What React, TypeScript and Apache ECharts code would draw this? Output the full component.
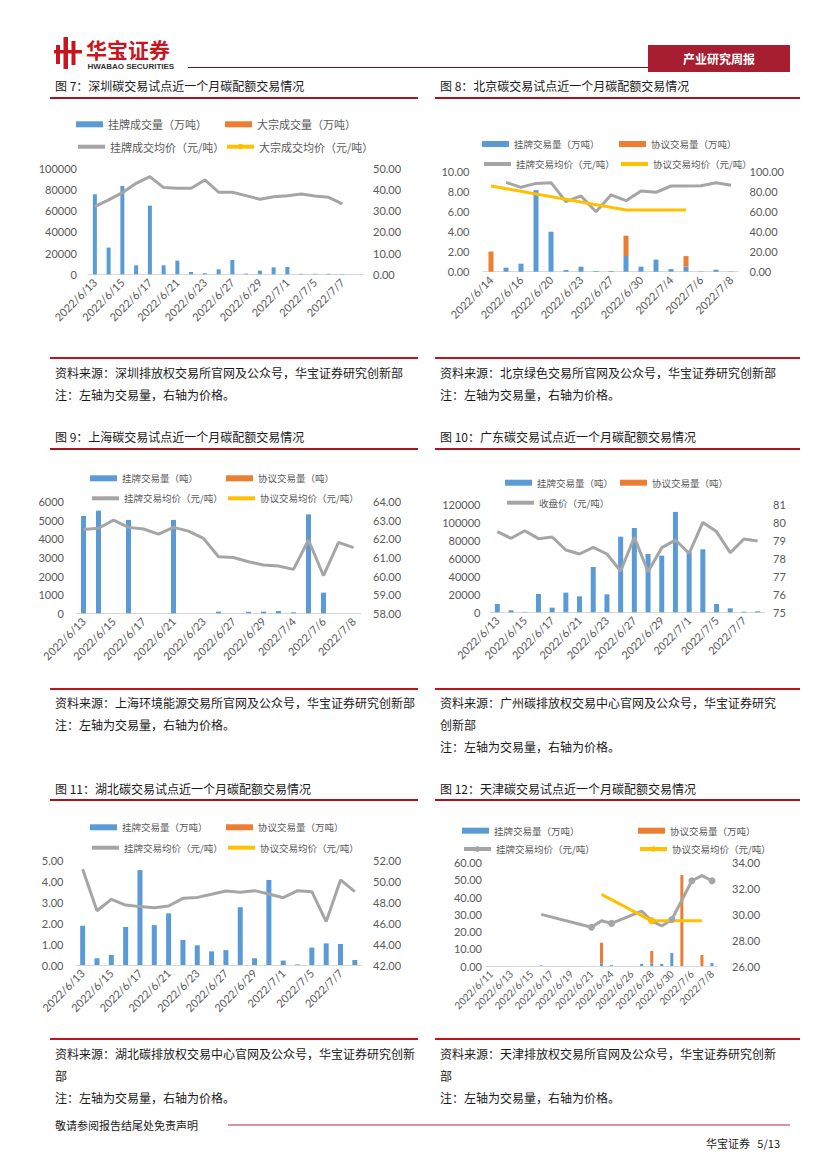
import React, { useEffect, useRef } from "react";
import * as echarts from "echarts";

const CJK = '"Noto Sans CJK SC", "Noto Sans", sans-serif';
const NUM = 'Lato, "Noto Sans CJK SC", sans-serif';
const AXIS_GRAY = "#595959";
const BLUE = "#5B9BD5";
const ORANGE = "#ED7D31";
const GRAY = "#A5A5A5";
const YELLOW = "#FFC000";

// ---------- 图7 深圳 ----------
const szCategories = ["2022/6/13", "2022/6/14", "2022/6/15", "2022/6/16", "2022/6/17", "2022/6/20", "2022/6/21", "2022/6/22", "2022/6/23", "2022/6/24", "2022/6/27", "2022/6/28", "2022/6/29", "2022/6/30", "2022/7/1", "2022/7/4", "2022/7/5", "2022/7/6", "2022/7/7", "2022/7/8"];
const szListedVol = [75500, 25200, 83300, 8500, 64800, 8500, 12900, 2200, 1000, 4700, 13500, 600, 3500, 6600, 6900, 500, 500, 500, 300, null];
const szBlockVol: (number | null)[] = [];
const szListedPrice = [31.9, 35.1, 38.5, 42.9, 46.1, 40.9, 40.6, 40.6, 44.5, 38.7, 38.7, 37.1, 35.4, 36.6, 37.1, 37.9, 36.9, 36.3, 33.2, null];
const szBlockPrice: (number | null)[] = [];

// ---------- 图8 北京 ----------
const bjCategories = ["2022/6/14", "2022/6/15", "2022/6/16", "2022/6/17", "2022/6/20", "2022/6/21", "2022/6/23", "2022/6/24", "2022/6/27", "2022/6/29", "2022/6/30", "2022/7/1", "2022/7/4", "2022/7/5", "2022/7/6", "2022/7/7", "2022/7/8"];
const bjListedVol = [null, 0.4, 0.8, 8.1, 3.97, 0.17, 0.5, 0.07, 0.07, 1.56, 0.5, 1.2, 0.26, 0.5, 0.03, 0.2, 0.03];
const bjAgreeVol = [2.0, null, null, null, null, null, null, null, null, 2.02, null, null, null, 1.05, null, null, null];
const bjListedPrice = [null, 88.7, 83.8, 87.7, 88.4, 69.5, 75.2, 59.6, 76.2, 70.5, 80.1, 78.8, 85.1, 85.1, 85.4, 88.4, 85.8];
const bjAgreePrice = [85.1, null, null, null, null, null, null, null, null, 61.3, null, null, null, 61.3, null, null, null];

// ---------- 图9 上海 ----------
const shCategories = ["2022/6/13", "2022/6/14", "2022/6/15", "2022/6/16", "2022/6/17", "2022/6/20", "2022/6/21", "2022/6/22", "2022/6/23", "2022/6/24", "2022/6/27", "2022/6/28", "2022/6/29", "2022/6/30", "2022/7/4", "2022/7/5", "2022/7/6", "2022/7/7", "2022/7/8"];
const shListedVol = [5230, 5520, 0, 5020, 0, 0, 5020, 0, 0, 90, 0, 80, 90, 120, 50, 5320, 1110, 0, 0];
const shAgreeVol: (number | null)[] = [];
const shListedPrice = [62.51, 62.57, 63.01, 62.62, 62.53, 62.26, 62.62, 62.42, 62.03, 61.04, 61.0, 60.77, 60.6, 60.54, 60.36, 61.94, 60.02, 61.81, 61.53];
const shAgreePrice: (number | null)[] = [];

// ---------- 图10 广东 ----------
const gdCategories = ["2022/6/13", "2022/6/14", "2022/6/15", "2022/6/16", "2022/6/17", "2022/6/20", "2022/6/21", "2022/6/22", "2022/6/23", "2022/6/24", "2022/6/27", "2022/6/28", "2022/6/29", "2022/6/30", "2022/7/1", "2022/7/4", "2022/7/5", "2022/7/6", "2022/7/7", "2022/7/8"];
const gdListedVol = [9200, 2200, 400, 20300, 5200, 21800, 17700, 50200, 19900, 83800, 93400, 64600, 62800, 111200, 66800, 69800, 9200, 4400, 700, 1100];
const gdAgreeVol: (number | null)[] = [];
const gdClose = [79.47, 79.1, 79.52, 79.08, 79.17, 78.45, 78.23, 78.6, 78.23, 77.29, 79.15, 77.25, 78.58, 79.0, 78.27, 79.98, 79.47, 78.3, 79.06, 78.95];

// ---------- 图11 湖北 ----------
const hbCategories = ["2022/6/13", "2022/6/14", "2022/6/15", "2022/6/16", "2022/6/17", "2022/6/20", "2022/6/21", "2022/6/22", "2022/6/23", "2022/6/24", "2022/6/27", "2022/6/28", "2022/6/29", "2022/6/30", "2022/7/1", "2022/7/4", "2022/7/5", "2022/7/6", "2022/7/7", "2022/7/8"];
const hbListedVol = [1.87, 0.32, 0.48, 1.81, 4.52, 1.9, 2.46, 1.19, 0.94, 0.65, 0.71, 2.75, 0.32, 4.05, 0.21, 0.03, 0.83, 1.03, 1.0, 0.24];
const hbAgreeVol: (number | null)[] = [];
const hbListedPrice = [51.11, 47.17, 48.25, 47.71, 47.56, 47.46, 47.62, 48.35, 48.44, 48.73, 49.05, 48.92, 49.08, 48.76, 48.41, 49.08, 48.98, 46.13, 50.1, 48.98];
const hbAgreePrice: (number | null)[] = [];

// ---------- 图12 天津 ----------
const tjCategories = ["2022/6/11", "2022/6/12", "2022/6/13", "2022/6/14", "2022/6/15", "2022/6/16", "2022/6/17", "2022/6/18", "2022/6/19", "2022/6/20", "2022/6/21", "2022/6/23", "2022/6/24", "2022/6/25", "2022/6/26", "2022/6/27", "2022/6/28", "2022/6/29", "2022/6/30", "2022/7/1", "2022/7/6", "2022/7/7", "2022/7/8"];
const tjListedVol = [null, null, null, null, null, 0.3, null, null, null, null, null, 1.5, 0.5, null, null, 1.3, 1.5, 1.2, 7.5, null, null, null, 1.8];
const tjAgreeVol = [null, null, null, null, null, null, null, null, null, null, null, 12.0, null, null, null, null, 7.2, null, null, 52.8, null, 6.4, null];
const tjListedPrice = [null, null, null, null, null, 30.0, null, null, null, null, 29.0, 29.5, 29.3, null, null, 30.25, 29.5, 29.1, 29.6, null, 32.6, 33.0, 32.6];
const tjAgreePrice = [null, null, null, null, null, null, null, null, null, null, null, 31.55, null, null, null, null, 29.5, null, null, 29.5, null, 29.5, null];

type Num = number | null;
type BarDef = { name: string; data: Num[]; color: string };
type LineDef = { name: string; data: Num[]; color: string; dot?: boolean };
type LegendDef = { name: string; x: number; y: number };
type AxisDef = { min: number; max: number; interval: number; dec: number; margin: number };
interface ChartCfg {
  categories: string[];
  grid: { left: number; top: number; width: number; height: number };
  left: AxisDef;
  right: AxisDef;
  bars: BarDef[];
  lines: LineDef[];
  legends: LegendDef[];
  legendFont: number;
  axisFont: number;
  barWidth: number;
  xFont: number;
}

function yAxisOf(a: AxisDef, pos: "left" | "right", fs: number) {
  return {
    type: "value",
    position: pos,
    min: a.min,
    max: a.max,
    interval: a.interval,
    axisLine: { show: false },
    axisTick: { show: false },
    splitLine: { show: false },
    axisLabel: {
      margin: a.margin,
      fontSize: fs,
      color: AXIS_GRAY,
      fontFamily: NUM,
      formatter: (v: number) => v.toFixed(a.dec),
    },
  };
}

function buildOption(c: ChartCfg) {
  const lineMap: Record<string, LineDef> = {};
  c.lines.forEach((l) => (lineMap[l.name] = l));
  return {
    animation: false,
    grid: { ...c.grid, containLabel: false, outerBoundsMode: "none" },
    xAxis: {
      type: "category",
      data: c.categories,
      boundaryGap: true,
      axisLine: { lineStyle: { color: "#D9D9D9", width: 1 } },
      axisTick: { show: false },
      splitLine: { show: false },
      axisLabel: {
        rotate: 45,
        interval: 1,
        fontSize: c.xFont,
        color: AXIS_GRAY,
        fontFamily: NUM,
        margin: 6,
      },
    },
    yAxis: [yAxisOf(c.left, "left", c.axisFont), yAxisOf(c.right, "right", c.axisFont)],
    legend: c.legends.map((lg) => {
      const ln = lineMap[lg.name];
      const ih = ln ? (ln.dot ? 7 : 4) : 6;
      const h = Math.max(ih, c.legendFont);
      return {
        left: lg.x,
        top: lg.y - h / 2,
        padding: 0,
        itemWidth: 27,
        itemHeight: ih,
        selectedMode: false,
        data: [ln ? { name: lg.name } : { name: lg.name, icon: "rect" }],
        textStyle: { fontSize: c.legendFont, color: AXIS_GRAY, fontFamily: CJK },
        lineStyle: ln ? { width: 4 } : undefined,
      };
    }),
    series: [
      ...c.bars.map((b) => ({
        type: "bar",
        name: b.name,
        data: b.data,
        stack: "vol",
        barWidth: c.barWidth,
        yAxisIndex: 0,
        itemStyle: { color: b.color },
      })),
      ...c.lines.map((l) => ({
        type: "line",
        name: l.name,
        data: l.data,
        yAxisIndex: 1,
        connectNulls: true,
        symbol: l.dot ? "circle" : "none",
        showSymbol: !!l.dot,
        symbolSize: 7,
        lineStyle: { color: l.color, width: 3 },
        itemStyle: { color: l.color },
      })),
    ],
  };
}

const opt7 = buildOption({
  categories: szCategories,
  grid: { left: 88, top: 168.3, width: 275, height: 106 },
  left: { min: 0, max: 100000, interval: 20000, dec: 0, margin: 11 },
  right: { min: 0, max: 50, interval: 10, dec: 2, margin: 10 },
  bars: [
    { name: "挂牌成交量（万吨）", data: szListedVol, color: BLUE },
    { name: "大宗成交量（万吨）", data: szBlockVol, color: ORANGE },
  ],
  lines: [
    { name: "挂牌成交均价（元/吨）", data: szListedPrice, color: GRAY },
    { name: "大宗成交均价（元/吨）", data: szBlockPrice, color: YELLOW, dot: true },
  ],
  legends: [
    { name: "挂牌成交量（万吨）", x: 76, y: 124.3 },
    { name: "大宗成交量（万吨）", x: 225, y: 124.3 },
    { name: "挂牌成交均价（元/吨）", x: 76, y: 146.7 },
    { name: "大宗成交均价（元/吨）", x: 225, y: 146.7 },
  ],
  legendFont: 11,
  axisFont: 11,
  barWidth: 4,
  xFont: 11,
});

const opt8 = buildOption({
  categories: bjCategories,
  grid: { left: 483.5, top: 171, width: 255, height: 100.7 },
  left: { min: 0, max: 10, interval: 2, dec: 2, margin: 14 },
  right: { min: 0, max: 100, interval: 20, dec: 2, margin: 11 },
  bars: [
    { name: "挂牌交易量（万吨）", data: bjListedVol, color: BLUE },
    { name: "协议交易量（万吨）", data: bjAgreeVol, color: ORANGE },
  ],
  lines: [
    { name: "挂牌交易均价（元/吨）", data: bjListedPrice, color: GRAY },
    { name: "协议交易均价（元/吨）", data: bjAgreePrice, color: YELLOW },
  ],
  legends: [
    { name: "挂牌交易量（万吨）", x: 482, y: 144 },
    { name: "协议交易量（万吨）", x: 619, y: 144 },
    { name: "挂牌交易均价（元/吨）", x: 482, y: 164 },
    { name: "协议交易均价（元/吨）", x: 619, y: 164 },
  ],
  legendFont: 9.5,
  axisFont: 11,
  barWidth: 5,
  xFont: 11,
});

const opt9 = buildOption({
  categories: shCategories,
  grid: { left: 76, top: 501.7, width: 285, height: 111.6 },
  left: { min: 0, max: 6000, interval: 1000, dec: 0, margin: 12 },
  right: { min: 58, max: 64, interval: 1, dec: 2, margin: 12 },
  bars: [
    { name: "挂牌交易量（吨）", data: shListedVol, color: BLUE },
    { name: "协议交易量（吨）", data: shAgreeVol, color: ORANGE },
  ],
  lines: [
    { name: "挂牌交易均价（元/吨）", data: shListedPrice, color: GRAY },
    { name: "协议交易均价（元/吨）", data: shAgreePrice, color: YELLOW },
  ],
  legends: [
    { name: "挂牌交易量（吨）", x: 90, y: 478.3 },
    { name: "协议交易量（吨）", x: 226, y: 478.3 },
    { name: "挂牌交易均价（元/吨）", x: 90, y: 498.3 },
    { name: "协议交易均价（元/吨）", x: 226, y: 498.3 },
  ],
  legendFont: 9.5,
  axisFont: 11,
  barWidth: 5,
  xFont: 11,
});

const opt10 = buildOption({
  categories: gdCategories,
  grid: { left: 490.5, top: 504, width: 274, height: 108.3 },
  left: { min: 0, max: 120000, interval: 20000, dec: 0, margin: 10 },
  right: { min: 75, max: 81, interval: 1, dec: 0, margin: 8.5 },
  bars: [
    { name: "挂牌交易量（吨）", data: gdListedVol, color: BLUE },
    { name: "协议交易量（吨）", data: gdAgreeVol, color: ORANGE },
  ],
  lines: [{ name: "收盘价（元/吨）", data: gdClose, color: GRAY }],
  legends: [
    { name: "挂牌交易量（吨）", x: 505, y: 482.7 },
    { name: "协议交易量（吨）", x: 620, y: 482.7 },
    { name: "收盘价（元/吨）", x: 505, y: 502.7 },
  ],
  legendFont: 9.5,
  axisFont: 11,
  barWidth: 5,
  xFont: 11,
});

const opt11 = buildOption({
  categories: hbCategories,
  grid: { left: 75.5, top: 860, width: 286.5, height: 105 },
  left: { min: 0, max: 5, interval: 1, dec: 2, margin: 12 },
  right: { min: 42, max: 52, interval: 2, dec: 2, margin: 11 },
  bars: [
    { name: "挂牌交易量（万吨）", data: hbListedVol, color: BLUE },
    { name: "协议交易量（万吨）", data: hbAgreeVol, color: ORANGE },
  ],
  lines: [
    { name: "挂牌交易均价（元/吨）", data: hbListedPrice, color: GRAY },
    { name: "协议交易均价（元/吨）", data: hbAgreePrice, color: YELLOW },
  ],
  legends: [
    { name: "挂牌交易量（万吨）", x: 90, y: 827.3 },
    { name: "协议交易量（万吨）", x: 226, y: 827.3 },
    { name: "挂牌交易均价（元/吨）", x: 90, y: 847.7 },
    { name: "协议交易均价（元/吨）", x: 226, y: 847.7 },
  ],
  legendFont: 9.5,
  axisFont: 11,
  barWidth: 5,
  xFont: 11,
});

const opt12 = buildOption({
  categories: tjCategories,
  grid: { left: 486, top: 862.7, width: 231, height: 103.3 },
  left: { min: 0, max: 60, interval: 10, dec: 2, margin: 4 },
  right: { min: 26, max: 34, interval: 2, dec: 2, margin: 15 },
  bars: [
    { name: "挂牌交易量（万吨）", data: tjListedVol, color: BLUE },
    { name: "协议交易量（万吨）", data: tjAgreeVol, color: ORANGE },
  ],
  lines: [
    { name: "挂牌交易均价（元/吨）", data: tjListedPrice, color: GRAY, dot: true },
    { name: "协议交易均价（元/吨）", data: tjAgreePrice, color: YELLOW, dot: true },
  ],
  legends: [
    { name: "挂牌交易量（万吨）", x: 462, y: 830.7 },
    { name: "协议交易量（万吨）", x: 638, y: 830.7 },
    { name: "挂牌交易均价（元/吨）", x: 462, y: 849 },
    { name: "协议交易均价（元/吨）", x: 638, y: 849 },
  ],
  legendFont: 9.5,
  axisFont: 11,
  barWidth: 3,
  xFont: 10,
});

// ---------- page texts ----------
const titles = [
  { text: "图 7：深圳碳交易试点近一个月碳配额交易情况", x: 55, y: 85 },
  { text: "图 8：北京碳交易试点近一个月碳配额交易情况", x: 440, y: 85 },
  { text: "图 9：上海碳交易试点近一个月碳配额交易情况", x: 55, y: 436 },
  { text: "图 10：广东碳交易试点近一个月碳配额交易情况", x: 440, y: 436 },
  { text: "图 11：湖北碳交易试点近一个月碳配额交易情况", x: 55, y: 788 },
  { text: "图 12：天津碳交易试点近一个月碳配额交易情况", x: 440, y: 788 },
];
const notes = [
  { text: "资料来源：深圳排放权交易所官网及公众号，华宝证券研究创新部", x: 55, y: 372 },
  { text: "注：左轴为交易量，右轴为价格。", x: 55, y: 394 },
  { text: "资料来源：北京绿色交易所官网及公众号，华宝证券研究创新部", x: 440, y: 372 },
  { text: "注：左轴为交易量，右轴为价格。", x: 440, y: 394 },
  { text: "资料来源：上海环境能源交易所官网及公众号，华宝证券研究创新部", x: 55, y: 702 },
  { text: "注：左轴为交易量，右轴为价格。", x: 55, y: 724 },
  { text: "资料来源：广州碳排放权交易中心官网及公众号，华宝证券研究", x: 440, y: 702 },
  { text: "创新部", x: 440, y: 724 },
  { text: "注：左轴为交易量，右轴为价格。", x: 440, y: 746 },
  { text: "资料来源：湖北碳排放权交易中心官网及公众号，华宝证券研究创新", x: 55, y: 1053 },
  { text: "部", x: 55, y: 1075 },
  { text: "注：左轴为交易量，右轴为价格。", x: 55, y: 1097 },
  { text: "资料来源：天津排放权交易所官网及公众号，华宝证券研究创新", x: 440, y: 1053 },
  { text: "部", x: 440, y: 1075 },
  { text: "注：左轴为交易量，右轴为价格。", x: 440, y: 1097 },
];
const titleLineYs = [98, 449, 800];
const bottomLineYs = [358, 689, 1039];

function txt(text: string, x: number, y: number, size: number, fill: string, extra: any = {}) {
  return {
    type: "text",
    x,
    y,
    style: { text, fill, fontSize: size, fontFamily: CJK, verticalAlign: "middle", align: "left", ...extra },
  };
}
function hline(x1: number, x2: number, y: number, stroke: string, w: number) {
  return { type: "line", shape: { x1, y1: y, x2, y2: y }, style: { stroke, lineWidth: w } };
}

const LOGO_RED = "#C8161E";
const pageGraphics: any[] = [
  // logo mark
  { type: "rect", shape: { x: 63.5, y: 37, width: 4.5, height: 32 }, style: { fill: LOGO_RED } },
  { type: "rect", shape: { x: 56, y: 45, width: 4, height: 19 }, style: { fill: LOGO_RED } },
  { type: "rect", shape: { x: 71.5, y: 41, width: 4, height: 24 }, style: { fill: LOGO_RED } },
  { type: "rect", shape: { x: 54, y: 50, width: 28, height: 3.5 }, style: { fill: LOGO_RED } },
  txt("华宝证券", 86, 48.5, 21, LOGO_RED, { fontWeight: "bold" }),
  txt("HWABAO SECURITIES", 87.5, 66.5, 8, "#333333", { fontWeight: "bold", fontFamily: '"Liberation Sans", Arial, sans-serif' }),
  hline(188, 648, 67.5, "#7B1113", 1),
  { type: "rect", shape: { x: 648, y: 45, width: 142, height: 27 }, style: { fill: "#A61E30" } },
  txt("产业研究周报", 719, 58.5, 12, "#FFFFFF", { fontWeight: "bold", align: "center" }),
  ...titles.map((t) => txt(t.text, t.x, t.y, 12, "#1A1A1A")),
  ...titleLineYs.flatMap((y) => [hline(50, 418, y, "#A8141C", 2), hline(435, 800, y, "#A8141C", 2)]),
  ...bottomLineYs.flatMap((y) => [hline(50, 418, y, "#C0141C", 2), hline(435, 800, y, "#C0141C", 2)]),
  ...notes.map((n) => txt(n.text, n.x, n.y, 12, "#1A1A1A")),
  txt("敬请参阅报告结尾处免责声明", 55, 1125, 11, "#1A1A1A"),
  hline(228, 790, 1125, "#C9717E", 1.5),
  txt("华宝证券   5/13", 780, 1143, 11, "#1A1A1A", { align: "right" }),
];
const pageOption = { animation: false, graphic: pageGraphics };

function EChart({ option }: { option: any }) {
  const ref = useRef<HTMLDivElement>(null);
  useEffect(() => {
    const ch = echarts.init(ref.current!, undefined, { renderer: "svg", width: 827, height: 1169 });
    ch.setOption(option);
    return () => ch.dispose();
  }, [option]);
  return <div ref={ref} style={{ position: "absolute", left: 0, top: 0, width: 827, height: 1169 }} />;
}

export default function App() {
  const opts = [pageOption, opt7, opt8, opt9, opt10, opt11, opt12];
  return (
    <div style={{ position: "absolute", left: 0, top: 0, width: 827, height: 1169, background: "#FFFFFF", overflow: "hidden" }}>
      {opts.map((o, i) => (
        <EChart key={i} option={o} />
      ))}
    </div>
  );
}
